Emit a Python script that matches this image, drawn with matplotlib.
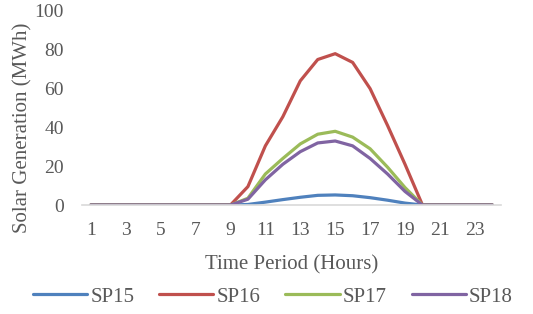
import matplotlib.pyplot as plt
import numpy as np

hours = list(range(1, 25))
sp15 = [0] * 9 + [0.3, 1.5, 2.8, 4.0, 5.0, 5.2, 4.8, 3.8, 2.5, 1.0, 0] + [0] * 4
sp16 = [0] * 9 + [9.5, 30.5, 45.5, 64.0, 75.0, 78.0, 73.5, 60.0, 41.0, 21.0, 0] + [0] * 4
sp17 = [0] * 9 + [3.5, 16.0, 24.0, 31.5, 36.5, 38.0, 35.0, 29.0, 19.5, 9.0, 0] + [0] * 4
sp18 = [0] * 9 + [3.0, 13.0, 21.0, 27.5, 32.0, 33.0, 30.5, 24.0, 16.0, 7.0, 0] + [0] * 4

series = [('SP15', sp15, '#4F81BD'), ('SP16', sp16, '#C0504D'),
          ('SP17', sp17, '#9BBB59'), ('SP18', sp18, '#8064A2')]

plt.rcParams['font.family'] = ['Liberation Serif', 'DejaVu Serif']
grey = '#595959'

fig = plt.figure(figsize=(5.33, 3.14), dpi=100)
ax = fig.add_axes([0.154, 0.347, 0.786, 0.618])

for name, vals, col in series:
    ax.plot(hours, vals, color=col, linewidth=2.3, label=name, solid_capstyle='round')

ax.set_xlim(0.5, 24.5)
ax.set_ylim(0, 100)
ax.set_xticks(hours[::2])
ax.set_yticks(np.arange(0, 101, 20))
ax.tick_params(length=0, labelsize=14, colors=grey)
ax.tick_params(axis='x', pad=12)
ax.tick_params(axis='y', pad=13)
for s in ['top', 'right', 'left']:
    ax.spines[s].set_visible(False)
ax.spines['bottom'].set_color('#D9D9D9')
ax.spines['bottom'].set_linewidth(1.2)

ax.set_xlabel('Time Period (Hours)', fontsize=15, color=grey, labelpad=12)
ax.set_ylabel('Solar Generation (MWh)', fontsize=15, color=grey)
ax.yaxis.set_label_coords(-0.119, 0.40)

fig.legend(loc='center', bbox_to_anchor=(0.512, 0.055), ncol=4, frameon=False,
           fontsize=15, handlelength=2.6, columnspacing=1.2, handletextpad=0.15,
           labelcolor=grey, borderpad=0)

fig.savefig('out.png', dpi=100)
